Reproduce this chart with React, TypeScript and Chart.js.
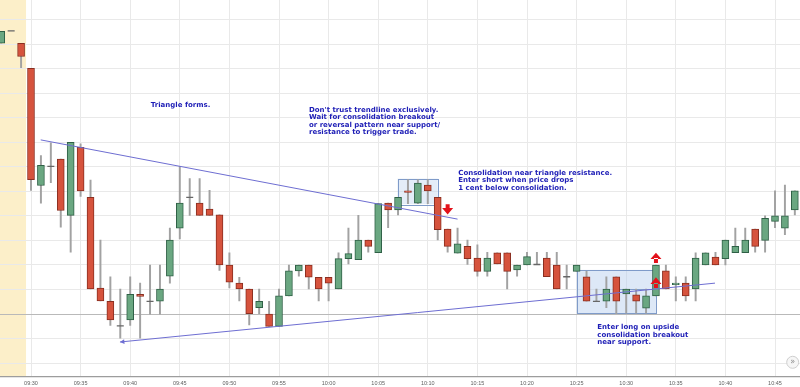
import React, { useEffect, useRef } from 'react';
import { Chart, registerables } from 'chart.js';

Chart.register(...registerables);

// ---- candle data (1-minute bars) ----
const times = [
  '09:27','09:28','09:29','09:30','09:31','09:32','09:33','09:34','09:35','09:36',
  '09:37','09:38','09:39','09:40','09:41','09:42','09:43','09:44','09:45','09:46',
  '09:47','09:48','09:49','09:50','09:51','09:52','09:53','09:54','09:55','09:56',
  '09:57','09:58','09:59','10:00','10:01','10:02','10:03','10:04','10:05','10:06',
  '10:07','10:08','10:09','10:10','10:11','10:12','10:13','10:14','10:15','10:16',
  '10:17','10:18','10:19','10:20','10:21','10:22','10:23','10:24','10:25','10:26',
  '10:27','10:28','10:29','10:30','10:31','10:32','10:33','10:34','10:35','10:36',
  '10:37','10:38','10:39','10:40','10:41','10:42','10:43','10:44','10:45','10:46','10:47',
];
const opens = [
  31.652,31.677,31.652,31.601,31.362,31.401,31.416,31.301,31.440,31.338,
  31.153,31.126,31.076,31.088,31.140,31.126,31.126,31.177,31.275,31.338,
  31.326,31.314,31.302,31.200,31.163,31.151,31.113,31.100,31.075,31.137,
  31.188,31.200,31.175,31.175,31.151,31.213,31.211,31.251,31.225,31.326,
  31.312,31.351,31.326,31.363,31.338,31.273,31.224,31.238,31.214,31.187,
  31.225,31.225,31.190,31.200,31.201,31.214,31.200,31.176,31.187,31.176,
  31.126,31.126,31.176,31.141,31.139,31.112,31.137,31.188,31.160,31.163,
  31.151,31.200,31.216,31.213,31.225,31.225,31.273,31.250,31.289,31.275,31.312,
];
const highs = [
  31.676,31.677,31.652,31.601,31.423,31.449,31.416,31.450,31.447,31.373,
  31.251,31.176,31.151,31.176,31.163,31.200,31.200,31.275,31.401,31.376,
  31.376,31.352,31.302,31.225,31.175,31.151,31.151,31.126,31.151,31.200,
  31.200,31.200,31.175,31.175,31.225,31.275,31.301,31.251,31.325,31.326,
  31.338,31.374,31.374,31.374,31.338,31.273,31.275,31.251,31.241,31.226,
  31.225,31.225,31.200,31.226,31.226,31.226,31.226,31.200,31.200,31.187,
  31.151,31.176,31.176,31.151,31.151,31.151,31.200,31.200,31.176,31.176,
  31.225,31.225,31.226,31.251,31.275,31.275,31.273,31.300,31.351,31.363,31.351,
];
const lows = [
  31.652,31.677,31.602,31.352,31.326,31.368,31.277,31.226,31.340,31.151,
  31.127,31.077,31.051,31.077,31.051,31.100,31.100,31.163,31.253,31.301,
  31.301,31.301,31.189,31.153,31.127,31.078,31.101,31.075,31.075,31.137,
  31.177,31.151,31.127,31.127,31.151,31.202,31.211,31.226,31.225,31.276,
  31.302,31.325,31.325,31.325,31.251,31.226,31.224,31.201,31.177,31.177,
  31.202,31.151,31.177,31.200,31.201,31.176,31.151,31.151,31.187,31.126,
  31.126,31.113,31.101,31.102,31.102,31.102,31.137,31.151,31.127,31.127,
  31.127,31.200,31.200,31.200,31.225,31.225,31.226,31.226,31.276,31.262,31.302,
];
const closes = [
  31.676,31.677,31.625,31.374,31.403,31.401,31.311,31.450,31.351,31.151,
  31.127,31.088,31.076,31.140,31.136,31.126,31.151,31.251,31.326,31.338,
  31.301,31.301,31.200,31.165,31.151,31.101,31.126,31.075,31.137,31.188,
  31.200,31.175,31.151,31.163,31.213,31.223,31.251,31.238,31.325,31.312,
  31.338,31.348,31.367,31.351,31.272,31.238,31.243,31.213,31.187,31.214,
  31.202,31.187,31.200,31.217,31.201,31.176,31.151,31.176,31.200,31.126,
  31.126,31.151,31.126,31.151,31.126,31.137,31.200,31.151,31.163,31.137,
  31.214,31.225,31.200,31.251,31.238,31.251,31.238,31.295,31.300,31.300,31.351,
];

// ---- axes ----
const xTickLabels = ['09:30','09:35','09:40','09:45','09:50','09:55','10:00','10:05','10:10','10:15','10:20','10:25','10:30','10:35','10:40','10:45'];
const yGridPrices = [31.00,31.05,31.10,31.15,31.20,31.25,31.30,31.35,31.40,31.45,31.50,31.55,31.60,31.65,31.70];
const referencePrice = 31.10;
const viewStart = 26.875; // minutes after 09:00
const viewEnd = 107.52;
const priceMin = 30.9723;
const priceMax = 31.7401;
const premarketEnd = 29.5;

// ---- annotations ----
const upperTrendTimes = [30.98, 73.0];
const upperTrendPrices = [31.455, 31.2935];
const lowerTrendTimes = [38.97, 98.95];
const lowerTrendPrices = [31.043, 31.163];

const boxStart = [66.95, 85.0, 89.0];
const boxEnd = [71.0, 93.0, 93.0];
const boxHigh = [31.376, 31.190, 31.151];
const boxLow = [31.324, 31.102, 31.102];
const boxFill = ['rgba(196,214,240,0.45)', 'rgba(180,203,238,0.45)', 'rgba(0,0,0,0)'];

const arrowTimes = [72, 93, 93];
const arrowHigh = [31.324, 31.225, 31.175];
const arrowLow = [31.303, 31.204, 31.153];
const arrowDir = ['down', 'up', 'up'];

const noteTimes = [42.07, 58.02, 73.07, 87.09];
const notePrices = [31.526, 31.516, 31.387, 31.073];
const noteLines = [
  ['Triangle forms.'],
  ["Don't trust trendline exclusively.", 'Wait for consolidation breakout', 'or reversal pattern near support/', 'resistance to trigger trade.'],
  ['Consolidation near triangle resistance.', 'Enter short when price drops', '1 cent below consolidation.'],
  ['Enter long on upside', 'consolidation breakout', 'near support.'],
];

const toMin = (t: string) => {
  const [h, m] = t.split(':').map(Number);
  return (h - 9) * 60 + m;
};
const fmtMin = (v: number) => {
  const h = 9 + Math.floor(v / 60);
  const m = Math.round(v % 60);
  return String(h).padStart(2, '0') + ':' + String(m).padStart(2, '0');
};

const RED = '#d6533d';
const RED_B = '#8a2e20';
const GREEN = '#6aa781';
const GREEN_B = '#2f6046';
const NOTE = '#1d1db6';
const TREND = '#6e6ed2';

export default function App() {
  const ref = useRef<HTMLCanvasElement | null>(null);

  useEffect(() => {
    const canvas = ref.current;
    if (!canvas) return;

    const xs = times.map(toMin);
    const wickData: any[] = [];
    const bodyData: any[] = [];
    const bodyColors: string[] = [];
    const bodyBorders: string[] = [];
    const dojiData: any[] = [];
    xs.forEach((x, i) => {
      const o = opens[i], c = closes[i], h = highs[i], l = lows[i];
      if (h > l) wickData.push({ x, y: [l, h] });
      if (Math.abs(o - c) < 0.0005) {
        dojiData.push({ x, y: o });
      } else {
        bodyData.push({ x, y: [o, c] });
        const up = c > o;
        bodyColors.push(up ? GREEN : RED);
        bodyBorders.push(up ? GREEN_B : RED_B);
      }
    });

    const bgPlugin = {
      id: 'bg',
      beforeDraw(chart: any) {
        const { ctx, chartArea, scales } = chart;
        ctx.save();
        ctx.fillStyle = '#ffffff';
        ctx.fillRect(0, 0, chart.width, chart.height);
        const x0 = scales.x.getPixelForValue(viewStart);
        const x1 = scales.x.getPixelForValue(premarketEnd);
        ctx.fillStyle = '#fcefc9';
        ctx.fillRect(x0, chartArea.top, x1 - x0, chartArea.bottom - chartArea.top);
        ctx.restore();
      },
      beforeDatasetsDraw(chart: any) {
        const { ctx, scales } = chart;
        ctx.save();
        boxStart.forEach((s, i) => {
          const xa = scales.x.getPixelForValue(s);
          const xb = scales.x.getPixelForValue(boxEnd[i]);
          const ya = scales.y.getPixelForValue(boxHigh[i]);
          const yb = scales.y.getPixelForValue(boxLow[i]);
          ctx.fillStyle = boxFill[i];
          ctx.fillRect(xa, ya, xb - xa, yb - ya);
          ctx.strokeStyle = '#7f9bc9';
          ctx.lineWidth = 1;
          ctx.strokeRect(Math.round(xa) + 0.5, Math.round(ya) + 0.5, Math.round(xb - xa), Math.round(yb - ya));
        });
        ctx.restore();
      },
      afterDatasetsDraw(chart: any) {
        const { ctx, scales, chartArea } = chart;
        ctx.save();
        // arrowhead at left end of support line
        const ax = scales.x.getPixelForValue(lowerTrendTimes[0]);
        const ay = scales.y.getPixelForValue(lowerTrendPrices[0]);
        const bx = scales.x.getPixelForValue(lowerTrendTimes[1]);
        const by = scales.y.getPixelForValue(lowerTrendPrices[1]);
        const ang = Math.atan2(by - ay, bx - ax);
        ctx.fillStyle = TREND;
        ctx.beginPath();
        ctx.moveTo(ax, ay);
        ctx.lineTo(ax + Math.cos(ang + 0.5) * 5, ay + Math.sin(ang + 0.5) * 5);
        ctx.lineTo(ax + Math.cos(ang - 0.5) * 5, ay + Math.sin(ang - 0.5) * 5);
        ctx.closePath();
        ctx.fill();

        // red arrows
        arrowTimes.forEach((t, i) => {
          const x = scales.x.getPixelForValue(t);
          const yT = scales.y.getPixelForValue(arrowHigh[i]);
          const yB = scales.y.getPixelForValue(arrowLow[i]);
          const h = yB - yT;
          const head = h * 0.62;
          const w = 11;
          const sw = 4;
          ctx.fillStyle = '#e3121b';
          ctx.beginPath();
          if (arrowDir[i] === 'down') {
            ctx.rect(x - sw / 2, yT, sw, h - head + 1);
            ctx.moveTo(x - w / 2, yB - head);
            ctx.lineTo(x + w / 2, yB - head);
            ctx.lineTo(x, yB);
          } else {
            ctx.rect(x - sw / 2, yT + head - 1, sw, h - head + 1);
            ctx.moveTo(x - w / 2, yT + head);
            ctx.lineTo(x + w / 2, yT + head);
            ctx.lineTo(x, yT);
          }
          ctx.closePath();
          ctx.fill();
        });

        // notes
        ctx.fillStyle = NOTE;
        ctx.font = 'bold 7px "DejaVu Sans"';
        ctx.textAlign = 'left';
        ctx.textBaseline = 'middle';
        noteLines.forEach((lines, i) => {
          const x = scales.x.getPixelForValue(noteTimes[i]);
          const y = scales.y.getPixelForValue(notePrices[i]);
          lines.forEach((line, j) => ctx.fillText(line, x, y + j * 7.4));
        });

        // scroll button
        const cx = chartArea.right - 7.3;
        const cy = chartArea.bottom - 14.4;
        ctx.beginPath();
        ctx.arc(cx, cy, 6, 0, Math.PI * 2);
        ctx.fillStyle = '#f6f6f6';
        ctx.fill();
        ctx.strokeStyle = '#cfcfcf';
        ctx.lineWidth = 1;
        ctx.stroke();
        ctx.fillStyle = '#8a8a8a';
        ctx.font = '8px "DejaVu Sans"';
        ctx.textAlign = 'center';
        ctx.fillText('\u00bb', cx, cy);
        ctx.restore();
      },
    };

    const chart = new Chart(canvas, {
      type: 'bar',
      data: {
        datasets: [
          {
            type: 'line',
            data: upperTrendTimes.map((t, i) => ({ x: t, y: upperTrendPrices[i] })),
            borderColor: TREND,
            borderWidth: 1,
            pointRadius: 0,
            fill: false,
            order: 0,
          } as any,
          {
            type: 'line',
            data: lowerTrendTimes.map((t, i) => ({ x: t, y: lowerTrendPrices[i] })),
            borderColor: TREND,
            borderWidth: 1,
            pointRadius: 0,
            fill: false,
            order: 0,
          } as any,
          {
            type: 'scatter',
            data: dojiData,
            pointStyle: 'line',
            pointRadius: 3.5,
            pointBorderWidth: 1.3,
            pointBorderColor: '#666666',
            borderColor: '#666666',
            order: 1,
          } as any,
          {
            type: 'bar',
            data: bodyData,
            backgroundColor: bodyColors,
            borderColor: bodyBorders,
            borderWidth: 1,
            borderSkipped: false,
            barThickness: 7,
            grouped: false,
            order: 2,
          } as any,
          {
            type: 'bar',
            data: wickData,
            backgroundColor: '#a2a2a2',
            borderWidth: 0,
            barThickness: 1.3,
            grouped: false,
            order: 3,
          } as any,
        ],
      },
      options: {
        animation: false,
        responsive: false,
        maintainAspectRatio: false,
        layout: { padding: 0, autoPadding: false },
        plugins: { legend: { display: false }, tooltip: { enabled: false } },
        events: [],
        scales: {
          x: {
            type: 'linear',
            position: 'bottom',
            min: viewStart,
            max: viewEnd,
            offset: false,
            afterBuildTicks: (s: any) => {
              s.ticks = xTickLabels.map((t) => ({ value: toMin(t) }));
            },
            afterFit: (s: any) => {
              s.height = 10.3;
              s.paddingLeft = 0;
              s.paddingRight = 0;
            },
            grid: { color: '#e9e9e9', lineWidth: 1, drawTicks: false, offset: false },
            border: { display: true, color: '#9d9d9d', width: 1.3 },
            ticks: {
              color: '#5e5e5e',
              font: { family: '"Liberation Sans", Arial, sans-serif', size: 5.5 },
              padding: 3,
              maxRotation: 0,
              autoSkip: false,
              callback: (v: any) => fmtMin(Number(v)),
            },
          },
          y: {
            type: 'linear',
            position: 'left',
            min: priceMin,
            max: priceMax,
            beginAtZero: false,
            afterBuildTicks: (s: any) => {
              s.ticks = yGridPrices.map((v) => ({ value: v }));
            },
            afterFit: (s: any) => {
              s.width = 0;
              s.paddingTop = 0;
              s.paddingBottom = 0;
            },
            grid: {
              drawTicks: false,
              lineWidth: 1,
              color: (ctx: any) =>
                ctx.tick && Math.abs(ctx.tick.value - referencePrice) < 1e-6 ? '#b9b9b9' : '#e9e9e9',
            },
            border: { display: false },
            ticks: { display: false, padding: 0 },
          },
        },
      } as any,
      plugins: [bgPlugin],
    });

    return () => chart.destroy();
  }, []);

  return (
    <div style={{ position: 'absolute', left: 0, top: 0, width: 800, height: 387 }}>
      <canvas ref={ref} width={800} height={387} style={{ display: 'block' }} />
    </div>
  );
}
